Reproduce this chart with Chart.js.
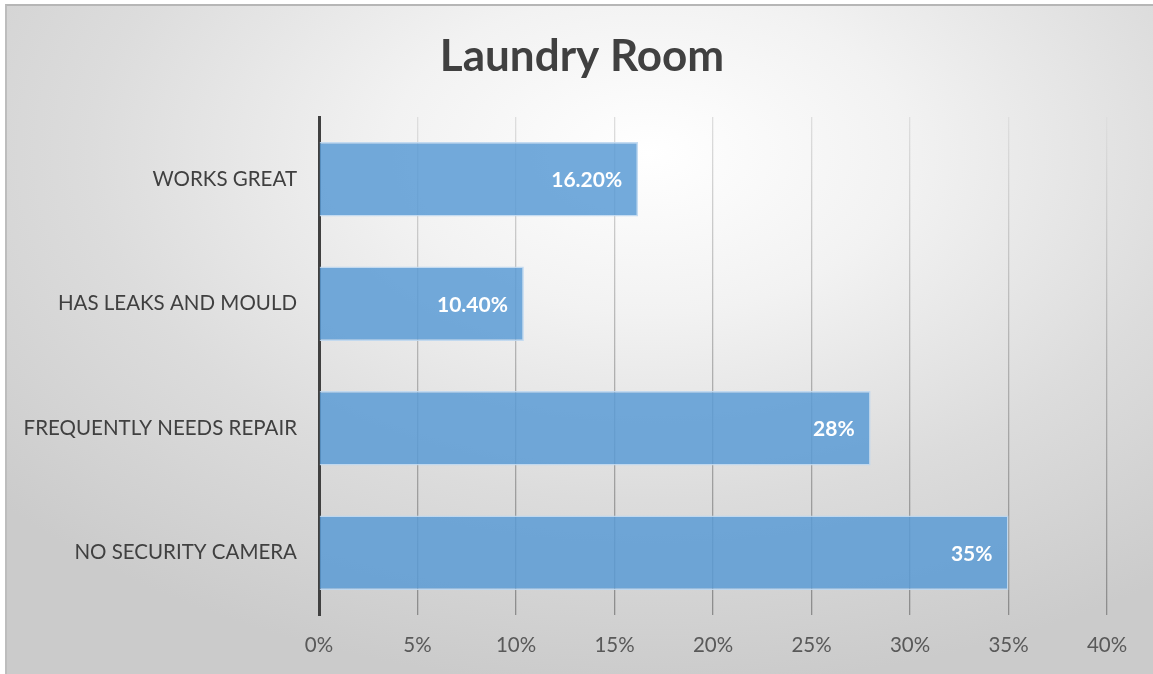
<!DOCTYPE html>
<html>
<head>
<meta charset="utf-8">
<script src="https://cdn.jsdelivr.net/npm/chart.js@4"></script>
<style>
  html, body {
    margin: 0;
    padding: 0;
    background: #fff;
    overflow: hidden;
  }

  .frame {
    position: absolute;
    left: 5px;
    top: 4px;
    right: 0;
    bottom: 0;
    border-top: 2px solid #b6b6b6;
    border-left: 2px solid #bdbdbd;
    background: radial-gradient(ellipse 75% 80% at 56% 22%, #ffffff 0%, #f2f2f2 30%, #dcdcdc 65%, #cbcbcb 100%);
  }

  .chart-container {
    position: absolute;
    left: 0;
    top: 0;
    width: 1153px;
    height: 674px;
  }
</style>
</head>
<body>
<div class="frame"></div>
<div class="chart-container">
  <canvas id="chart"></canvas>
</div>
<script>
const TITLE = 'Laundry Room';
const CATEGORIES = ['WORKS GREAT', 'HAS LEAKS AND MOULD', 'FREQUENTLY NEEDS REPAIR', 'NO SECURITY CAMERA'];
const VALUES = [16.2, 10.4, 28, 35];
const VALUE_LABELS = ['16.20%', '10.40%', '28%', '35%'];
const X_TICKS = [0, 5, 10, 15, 20, 25, 30, 35, 40];

const FONT = 'Lato, "Open Sans", sans-serif';

// white labels at the inner end of each bar
const barLabels = {
  id: 'barLabels',
  afterDatasetsDraw(chart) {
    const ctx = chart.ctx;
    const meta = chart.getDatasetMeta(0);
    ctx.save();
    ctx.font = `bold 21px ${FONT}`;
    ctx.fillStyle = '#ffffff';
    ctx.textAlign = 'right';
    ctx.textBaseline = 'middle';
    meta.data.forEach((bar, i) => {
      ctx.fillText(VALUE_LABELS[i], bar.x - 16, bar.y + 1);
    });
    ctx.restore();
  },
};

// title centred on the whole picture, not on the plot area
const pageTitle = {
  id: 'pageTitle',
  afterDraw(chart) {
    const ctx = chart.ctx;
    ctx.save();
    ctx.font = `bold 44px ${FONT}`;
    ctx.fillStyle = '#404040';
    ctx.textAlign = 'center';
    ctx.textBaseline = 'middle';
    ctx.fillText(TITLE, 582, 57);
    ctx.restore();
  },
};

function gridColor(context) {
  const chart = context.chart;
  const area = chart.chartArea;
  if (!area) {
    return '#bfbfbf';
  }
  const g = chart.ctx.createLinearGradient(0, area.top, 0, area.bottom);
  g.addColorStop(0, '#dedede');
  g.addColorStop(0.5, '#b0b0b0');
  g.addColorStop(1, '#8c8c8c');
  return g;
}

new Chart(document.getElementById('chart'), {
  type: 'bar',
  data: {
    labels: CATEGORIES,
    datasets: [
      {
        data: VALUES,
        backgroundColor: 'rgba(91, 155, 213, 0.85)',
        borderColor: 'rgba(190, 215, 240, 0.9)',
        borderWidth: 1.5,
        borderSkipped: 'start',
        barPercentage: 0.6,
        categoryPercentage: 1,
      },
    ],
  },
  plugins: [barLabels, pageTitle],
  options: {
    indexAxis: 'y',
    responsive: true,
    maintainAspectRatio: false,
    animation: false,
    layout: {
      padding: { left: 0, right: 46, top: 117, bottom: 0 },
    },
    plugins: {
      legend: { display: false },
      tooltip: { enabled: false },
      title: { display: false },
    },
    scales: {
      x: {
        min: 0,
        max: 40,
        afterBuildTicks: (scale) => {
          scale.ticks = X_TICKS.map((v) => ({ value: v }));
        },
        afterFit: (scale) => {
          scale.height = 59;
        },
        grid: {
          color: gridColor,
          lineWidth: 1.3,
          drawTicks: false,
        },
        border: { display: false },
        ticks: {
          padding: 18,
          color: '#595959',
          font: { family: FONT, size: 20.5 },
          callback: (v) => v + '%',
        },
      },
      y: {
        afterFit: (scale) => {
          scale.width = 319;
        },
        grid: { display: false, drawTicks: false },
        border: { display: true, color: '#404040', width: 3 },
        ticks: {
          padding: 22,
          color: '#404040',
          font: { family: FONT, size: 20.5 },
        },
      },
    },
  },
});
</script>
</body>
</html>
